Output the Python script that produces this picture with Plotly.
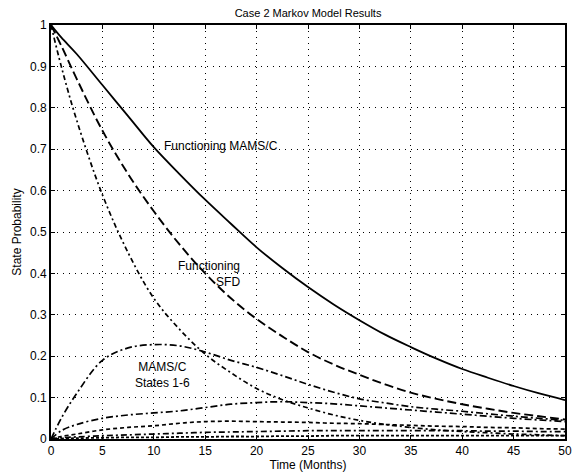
import plotly.graph_objects as go

# Time grid (months)
t = [0, 1, 2.5, 5, 7.5, 10, 12.5, 15, 17.5, 20, 22.5, 25, 27.5, 30, 32.5, 35, 37.5, 40, 42.5, 45, 47.5, 50]

func_mamsc = [1.0, 0.97, 0.93, 0.855, 0.78, 0.705, 0.64, 0.578, 0.52, 0.463, 0.413, 0.367, 0.325, 0.287, 0.252, 0.222, 0.194, 0.169, 0.148, 0.128, 0.11, 0.094]
func_sfd   = [1.0, 0.95, 0.87, 0.745, 0.64, 0.55, 0.47, 0.40, 0.34, 0.29, 0.248, 0.21, 0.18, 0.155, 0.132, 0.112, 0.097, 0.084, 0.073, 0.063, 0.055, 0.047]
steep      = [1.0, 0.9, 0.77, 0.59, 0.45, 0.34, 0.265, 0.205, 0.16, 0.122, 0.095, 0.075, 0.058, 0.045, 0.035, 0.028, 0.022, 0.018, 0.015, 0.012, 0.01, 0.008]
mams_peak  = [0.0, 0.05, 0.11, 0.19, 0.22, 0.228, 0.225, 0.21, 0.19, 0.173, 0.153, 0.132, 0.113, 0.097, 0.087, 0.078, 0.072, 0.067, 0.061, 0.055, 0.05, 0.045]
state_e    = [0.0, 0.02, 0.035, 0.05, 0.058, 0.063, 0.068, 0.076, 0.084, 0.088, 0.09, 0.088, 0.085, 0.08, 0.075, 0.07, 0.065, 0.06, 0.055, 0.05, 0.046, 0.042]
state_f    = [0.0, 0.006, 0.012, 0.022, 0.028, 0.032, 0.038, 0.042, 0.043, 0.042, 0.041, 0.04, 0.038, 0.037, 0.035, 0.033, 0.031, 0.03, 0.028, 0.027, 0.025, 0.024]
state_g    = [0.0, 0.003, 0.005, 0.008, 0.01, 0.012, 0.014, 0.016, 0.017, 0.018, 0.019, 0.02, 0.02, 0.02, 0.02, 0.02, 0.02, 0.02, 0.019, 0.019, 0.018, 0.018]
state_h    = [0.0, 0.001, 0.002, 0.003, 0.004, 0.004, 0.005, 0.005, 0.006, 0.006, 0.007, 0.007, 0.008, 0.008, 0.008, 0.008, 0.008, 0.008, 0.008, 0.008, 0.008, 0.008]

series = [
    (func_mamsc, "solid", 1.8),
    (func_sfd, "9px,4px", 1.9),
    (steep, "5px,3px,2px,3px", 1.7),
    (mams_peak, "7px,3px,2px,3px", 1.7),
    (state_e, "7px,3px,2px,3px", 1.7),
    (state_f, "4px,3px", 1.7),
    (state_g, "6px,3px,2px,3px", 1.7),
    (state_h, "3px,2px", 1.8),
]

fig = go.Figure()
for ys, dash, w in series:
    fig.add_trace(go.Scatter(x=t, y=ys, mode="lines", line=dict(color="black", width=w, dash=dash, shape="spline"), showlegend=False))

font = "Liberation Sans, Arial, sans-serif"
axis_common = dict(showline=True, linecolor="black", linewidth=1.8, mirror="ticks", ticks="inside", ticklen=4,
                   tickcolor="black", showgrid=True, gridcolor="black", griddash="1px,5px", gridwidth=1.2,
                   zeroline=False, tickfont=dict(family=font, size=12, color="black"))

fig.update_layout(
    width=579, height=474,
    margin=dict(l=51, r=7, t=25, b=34),
    paper_bgcolor="white", plot_bgcolor="white",
    title=dict(text="Case 2 Markov Model Results", x=0.532, xanchor="center", y=0.972, yanchor="middle",
               font=dict(family=font, size=11, color="black")),
    xaxis=dict(range=[0, 50], dtick=5, tick0=0,
               title=dict(text="Time (Months)", font=dict(family=font, size=12, color="black"), standoff=0),
               **axis_common),
    yaxis=dict(range=[0, 1], dtick=0.1, tick0=0,
               title=dict(text="State Probability", font=dict(family=font, size=12, color="black"), standoff=6),
               **axis_common),
    annotations=[
        dict(x=16.5, y=0.708, text="Functioning MAMS/C", showarrow=False, xref="x", yref="y",
             font=dict(family=font, size=12, color="black")),
        dict(x=18.6, y=0.399, text="Functioning<br>SFD", showarrow=False, xref="x", yref="y", align="right",
             xanchor="right", font=dict(family=font, size=12, color="black")),
        dict(x=10.85, y=0.154, text="MAMS/C<br>States 1-6", showarrow=False, xref="x", yref="y", align="center",
             font=dict(family=font, size=12, color="black")),
    ],
)

fig.write_html("out.html")
